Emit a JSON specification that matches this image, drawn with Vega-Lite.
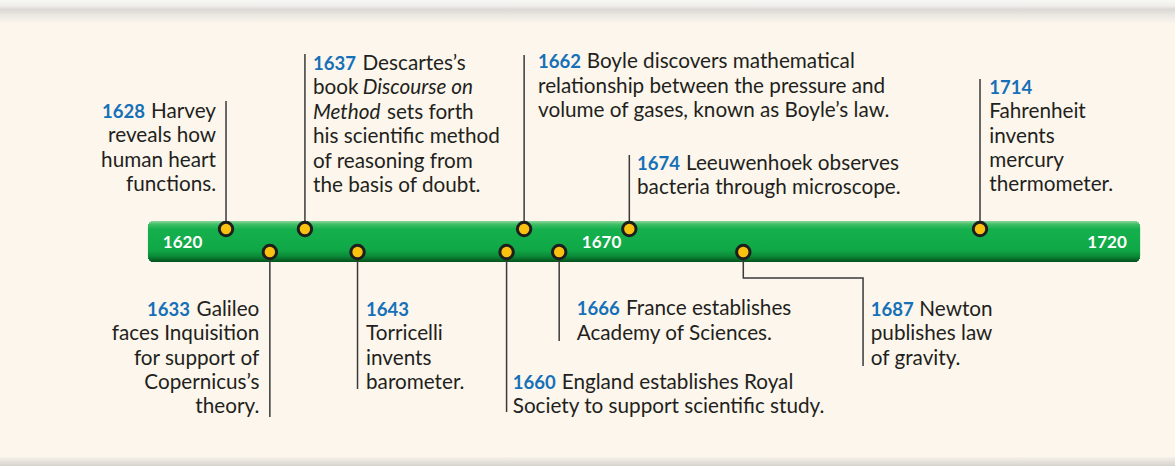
{
  "$schema": "https://vega.github.io/schema/vega-lite/v6.json",
  "width": 1175,
  "height": 466,
  "autosize": {"type": "fit", "contains": "padding"},
  "padding": 0,
  "background": "#fcf6ec",
  "config": {"view": {"stroke": null}},
  "datasets": {
    "events": [
      {"year": 1628, "lane": 1.2},
      {"year": 1633, "lane": -1.1},
      {"year": 1637, "lane": 1.2},
      {"year": 1643, "lane": -1.1},
      {"year": 1660, "lane": -1.1},
      {"year": 1662, "lane": 1.2},
      {"year": 1666, "lane": -1.1},
      {"year": 1674, "lane": 1.2},
      {"year": 1687, "lane": -1.1},
      {"year": 1714, "lane": 1.2}
    ],
    "leaders": [
      {"id": 1628, "s": 0, "x": 1628, "y": 1.2}, {"id": 1628, "s": 1, "x": 1628, "y": 14.0},
      {"id": 1637, "s": 0, "x": 1637, "y": 1.2}, {"id": 1637, "s": 1, "x": 1637, "y": 18.7},
      {"id": 1662, "s": 0, "x": 1662, "y": 1.2}, {"id": 1662, "s": 1, "x": 1662, "y": 18.6},
      {"id": 1674, "s": 0, "x": 1674, "y": 1.2}, {"id": 1674, "s": 1, "x": 1674, "y": 8.6},
      {"id": 1714, "s": 0, "x": 1714, "y": 1.2}, {"id": 1714, "s": 1, "x": 1714, "y": 16.2},
      {"id": 1633, "s": 0, "x": 1633, "y": -1.1}, {"id": 1633, "s": 1, "x": 1633, "y": -17.6},
      {"id": 1643, "s": 0, "x": 1643, "y": -1.1}, {"id": 1643, "s": 1, "x": 1643, "y": -14.8},
      {"id": 1660, "s": 0, "x": 1660, "y": -1.1}, {"id": 1660, "s": 1, "x": 1660, "y": -17.1},
      {"id": 1666, "s": 0, "x": 1666, "y": -1.1}, {"id": 1666, "s": 1, "x": 1666, "y": -10.0},
      {"id": 1687, "s": 0, "x": 1687, "y": -1.1}, {"id": 1687, "s": 1, "x": 1687, "y": -3.7},
      {"id": 1687, "s": 2, "x": 1700.66, "y": -3.7}, {"id": 1687, "s": 3, "x": 1700.66, "y": -12.5}
    ],
    "ticks": [
      {"x": 1623.04, "y": -0.7, "t": "1620"},
      {"x": 1670.83, "y": -0.7, "t": "1670"},
      {"x": 1728.49, "y": -0.7, "t": "1720"}
    ],
    "notes": [
      {"k": "year", "a": "right", "x": 1618.76, "y": 12.35, "t": "1628"},
      {"k": "text", "a": "right", "x": 1626.86, "y": 12.35, "t": "Harvey"},
      {"k": "text", "a": "right", "x": 1626.86, "y": 9.9, "t": "reveals how"},
      {"k": "text", "a": "right", "x": 1626.86, "y": 7.45, "t": "human heart"},
      {"k": "text", "a": "right", "x": 1626.86, "y": 5.0, "t": "functions."},

      {"k": "year", "a": "right", "x": 1623.89, "y": -7.5, "t": "1633"},
      {"k": "text", "a": "right", "x": 1631.8, "y": -7.5, "t": "Galileo"},
      {"k": "text", "a": "right", "x": 1631.8, "y": -9.9, "t": "faces Inquisition"},
      {"k": "text", "a": "right", "x": 1631.8, "y": -12.35, "t": "for support of"},
      {"k": "text", "a": "right", "x": 1631.8, "y": -14.8, "t": "Copernicus’s"},
      {"k": "text", "a": "right", "x": 1631.8, "y": -17.2, "t": "theory."},

      {"k": "year", "a": "left", "x": 1637.92, "y": 17.15, "t": "1637"},
      {"k": "text", "a": "left", "x": 1643.57, "y": 17.15, "t": "Descartes’s"},
      {"k": "text", "a": "left", "x": 1637.92, "y": 14.7, "t": "book"},
      {"k": "title", "a": "left", "x": 1643.6, "y": 14.7, "t": "Discourse on"},
      {"k": "title", "a": "left", "x": 1637.92, "y": 12.25, "t": "Method"},
      {"k": "text", "a": "left", "x": 1646.36, "y": 12.25, "t": "sets forth"},
      {"k": "text", "a": "left", "x": 1637.92, "y": 9.8, "t": "his scientific method"},
      {"k": "text", "a": "left", "x": 1637.92, "y": 7.35, "t": "of reasoning from"},
      {"k": "text", "a": "left", "x": 1637.92, "y": 4.9, "t": "the basis of doubt."},

      {"k": "year", "a": "left", "x": 1643.97, "y": -7.5, "t": "1643"},
      {"k": "text", "a": "left", "x": 1643.97, "y": -9.9, "t": "Torricelli"},
      {"k": "text", "a": "left", "x": 1643.97, "y": -12.35, "t": "invents"},
      {"k": "text", "a": "left", "x": 1643.97, "y": -14.8, "t": "barometer."},

      {"k": "year", "a": "left", "x": 1660.7, "y": -14.8, "t": "1660"},
      {"k": "text", "a": "left", "x": 1666.29, "y": -14.8, "t": "England establishes Royal"},
      {"k": "text", "a": "left", "x": 1660.7, "y": -17.2, "t": "Society to support scientific study."},

      {"k": "year", "a": "left", "x": 1663.59, "y": 17.3, "t": "1662"},
      {"k": "text", "a": "left", "x": 1669.14, "y": 17.3, "t": "Boyle discovers mathematical"},
      {"k": "text", "a": "left", "x": 1663.59, "y": 14.85, "t": "relationship between the pressure and"},
      {"k": "text", "a": "left", "x": 1663.59, "y": 12.4, "t": "volume of gases, known as Boyle’s law."},

      {"k": "year", "a": "left", "x": 1668.0, "y": -7.4, "t": "1666"},
      {"k": "text", "a": "left", "x": 1673.62, "y": -7.4, "t": "France establishes"},
      {"k": "text", "a": "left", "x": 1668.0, "y": -9.85, "t": "Academy of Sciences."},

      {"k": "year", "a": "left", "x": 1674.88, "y": 7.15, "t": "1674"},
      {"k": "text", "a": "left", "x": 1680.47, "y": 7.15, "t": "Leeuwenhoek observes"},
      {"k": "text", "a": "left", "x": 1674.88, "y": 4.7, "t": "bacteria through microscope."},

      {"k": "year", "a": "left", "x": 1701.54, "y": -7.5, "t": "1687"},
      {"k": "text", "a": "left", "x": 1707.08, "y": -7.5, "t": "Newton"},
      {"k": "text", "a": "left", "x": 1701.54, "y": -9.9, "t": "publishes law"},
      {"k": "text", "a": "left", "x": 1701.54, "y": -12.35, "t": "of gravity."},

      {"k": "year", "a": "left", "x": 1715.06, "y": 14.7, "t": "1714"},
      {"k": "text", "a": "left", "x": 1715.06, "y": 12.27, "t": "Fahrenheit"},
      {"k": "text", "a": "left", "x": 1715.06, "y": 9.84, "t": "invents"},
      {"k": "text", "a": "left", "x": 1715.06, "y": 7.4, "t": "mercury"},
      {"k": "text", "a": "left", "x": 1715.06, "y": 4.97, "t": "thermometer."}
    ]
  },
  "data": {"name": "events"},
  "layer": [
    {
      "mark": {"type": "rect", "fill": {"gradient": "linear", "x1": 0, "y1": 0, "x2": 0, "y2": 1, "stops": [
        {"offset": 0, "color": "#f7f7f5"}, {"offset": 0.25, "color": "#efeeeb"}, {"offset": 0.4, "color": "#dad9d5"}, {"offset": 0.65, "color": "#ece9e3"}, {"offset": 1, "color": "#fcf6ec"}]}},
      "encoding": {
        "x": {"datum": 1602.22, "type": "quantitative", "scale": {"domain": [1602.22, 1736.24], "nice": false, "zero": false}, "axis": null},
        "x2": {"datum": 1736.24},
        "y": {"datum": 24.1, "type": "quantitative", "scale": {"domain": [-22.5, 24.1], "nice": false, "zero": false}, "axis": null},
        "y2": {"datum": 21.7}
      }
    },
    {
      "mark": {"type": "rect", "fill": {"gradient": "linear", "x1": 0, "y1": 0, "x2": 0, "y2": 1, "stops": [
        {"offset": 0, "color": "#f6f1e9"}, {"offset": 1, "color": "#d6d3cd"}]}},
      "encoding": {
        "x": {"datum": 1602.22, "type": "quantitative", "scale": {"domain": [1602.22, 1736.24], "nice": false, "zero": false}, "axis": null},
        "x2": {"datum": 1736.24},
        "y": {"datum": -21.6, "type": "quantitative", "scale": {"domain": [-22.5, 24.1], "nice": false, "zero": false}, "axis": null},
        "y2": {"datum": -22.5}
      }
    },
    {
      "mark": {"type": "rect", "cornerRadius": 6, "fill": {"gradient": "linear", "x1": 0, "y1": 0, "x2": 0, "y2": 1, "stops": [
        {"offset": 0, "color": "#8fd69b"}, {"offset": 0.08, "color": "#3fbe66"}, {"offset": 0.2, "color": "#15b04d"}, {"offset": 0.7, "color": "#10a847"}, {"offset": 0.86, "color": "#0b8a38"}, {"offset": 1, "color": "#044f1b"}]}},
      "encoding": {
        "x": {"datum": 1619.1, "type": "quantitative", "scale": {"domain": [1602.22, 1736.24], "nice": false, "zero": false}, "axis": null},
        "x2": {"datum": 1732.25},
        "y": {"datum": 2.0, "type": "quantitative", "scale": {"domain": [-22.5, 24.1], "nice": false, "zero": false}, "axis": null},
        "y2": {"datum": -2.1}
      }
    },
    {
      "data": {"name": "leaders"},
      "mark": {"type": "line", "color": "#3a3a3a", "strokeWidth": 1.5, "interpolate": "linear"},
      "encoding": {
        "x": {"field": "x", "type": "quantitative", "scale": {"domain": [1602.22, 1736.24], "nice": false, "zero": false}, "axis": null},
        "y": {"field": "y", "type": "quantitative", "scale": {"domain": [-22.5, 24.1], "nice": false, "zero": false}, "axis": null},
        "detail": {"field": "id", "type": "nominal"},
        "order": {"field": "s", "type": "quantitative"}
      }
    },
    {
      "mark": {"type": "point", "filled": true, "fill": "#f9c110", "stroke": "#1e1e1e", "strokeWidth": 3, "size": 180, "opacity": 1},
      "encoding": {
        "x": {"field": "year", "type": "quantitative", "scale": {"domain": [1602.22, 1736.24], "nice": false, "zero": false}, "axis": null},
        "y": {"field": "lane", "type": "quantitative", "scale": {"domain": [-22.5, 24.1], "nice": false, "zero": false}, "axis": null}
      }
    },
    {
      "data": {"name": "ticks"},
      "mark": {"type": "text", "font": "Lato", "fontWeight": "bold", "fontSize": 17, "color": "#ffffff", "align": "center", "baseline": "alphabetic"},
      "encoding": {
        "x": {"field": "x", "type": "quantitative", "scale": {"domain": [1602.22, 1736.24], "nice": false, "zero": false}, "axis": null},
        "y": {"field": "y", "type": "quantitative", "scale": {"domain": [-22.5, 24.1], "nice": false, "zero": false}, "axis": null},
        "text": {"field": "t"}
      }
    },
    {
      "data": {"name": "notes"},
      "transform": [{"filter": "datum.k === 'year' && datum.a === 'left'"}],
      "mark": {"type": "text", "font": "Lato", "fontWeight": "bold", "fontSize": 18.5, "color": "#1570b8", "align": "left", "baseline": "alphabetic"},
      "encoding": {
        "x": {"field": "x", "type": "quantitative", "scale": {"domain": [1602.22, 1736.24], "nice": false, "zero": false}, "axis": null},
        "y": {"field": "y", "type": "quantitative", "scale": {"domain": [-22.5, 24.1], "nice": false, "zero": false}, "axis": null},
        "text": {"field": "t"}
      }
    },
    {
      "data": {"name": "notes"},
      "transform": [{"filter": "datum.k === 'year' && datum.a === 'right'"}],
      "mark": {"type": "text", "font": "Lato", "fontWeight": "bold", "fontSize": 18.5, "color": "#1570b8", "align": "right", "baseline": "alphabetic"},
      "encoding": {
        "x": {"field": "x", "type": "quantitative", "scale": {"domain": [1602.22, 1736.24], "nice": false, "zero": false}, "axis": null},
        "y": {"field": "y", "type": "quantitative", "scale": {"domain": [-22.5, 24.1], "nice": false, "zero": false}, "axis": null},
        "text": {"field": "t"}
      }
    },
    {
      "data": {"name": "notes"},
      "transform": [{"filter": "datum.k === 'text' && datum.a === 'left'"}],
      "mark": {"type": "text", "font": "Lato", "fontSize": 20.7, "color": "#231f20", "align": "left", "baseline": "alphabetic"},
      "encoding": {
        "x": {"field": "x", "type": "quantitative", "scale": {"domain": [1602.22, 1736.24], "nice": false, "zero": false}, "axis": null},
        "y": {"field": "y", "type": "quantitative", "scale": {"domain": [-22.5, 24.1], "nice": false, "zero": false}, "axis": null},
        "text": {"field": "t"}
      }
    },
    {
      "data": {"name": "notes"},
      "transform": [{"filter": "datum.k === 'text' && datum.a === 'right'"}],
      "mark": {"type": "text", "font": "Lato", "fontSize": 20.7, "color": "#231f20", "align": "right", "baseline": "alphabetic"},
      "encoding": {
        "x": {"field": "x", "type": "quantitative", "scale": {"domain": [1602.22, 1736.24], "nice": false, "zero": false}, "axis": null},
        "y": {"field": "y", "type": "quantitative", "scale": {"domain": [-22.5, 24.1], "nice": false, "zero": false}, "axis": null},
        "text": {"field": "t"}
      }
    },
    {
      "data": {"name": "notes"},
      "transform": [{"filter": "datum.k === 'title'"}],
      "mark": {"type": "text", "font": "Lato", "fontStyle": "italic", "fontSize": 20.7, "color": "#231f20", "align": "left", "baseline": "alphabetic"},
      "encoding": {
        "x": {"field": "x", "type": "quantitative", "scale": {"domain": [1602.22, 1736.24], "nice": false, "zero": false}, "axis": null},
        "y": {"field": "y", "type": "quantitative", "scale": {"domain": [-22.5, 24.1], "nice": false, "zero": false}, "axis": null},
        "text": {"field": "t"}
      }
    }
  ]
}
